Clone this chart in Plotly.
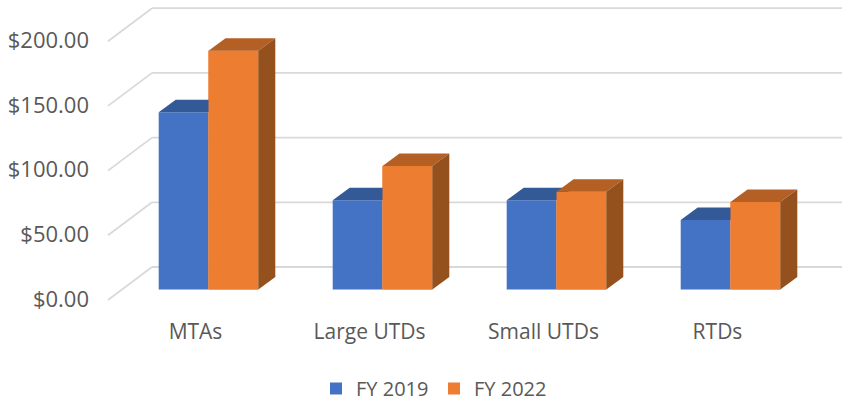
import plotly.graph_objects as go

categories = ["MTAs", "Large UTDs", "Small UTDs", "RTDs"]
fy2019 = [137, 69, 69, 53.7]
fy2022 = [184.6, 95.5, 75.6, 67.6]
y_ticks = [0, 50, 100, 150, 200]
y_tick_labels = ["$0.00", "$50.00", "$100.00", "$150.00", "$200.00"]

BLUE, BLUE_TOP = "#4472C4", "#335A97"
ORANGE, ORANGE_TOP, ORANGE_SIDE = "#ED7D31", "#B45F24", "#95511D"
GRID = "#D9D9D9"
TEXT = "#595959"
FONT = "Open Sans"

W, H = 842, 400
PLOT_L, PLOT_B = 90, 317
X0_PX, Y0_PX = 208.5, 289.5   # pixel of category 0 centre and of value 0 on bar plane
PX_X, PX_Y = 174.0, 1.294     # pixels per category / per dollar

bar_w = 49.8 / PX_X
dx, dv = 17 / PX_X, 12.5 / PX_Y          # bar depth
back_x, back_v = -56.5 / PX_X, 22.5 / PX_Y   # back wall offset
front_x, front_v = -100.5 / PX_X, -10.5 / PX_Y  # front edge of side wall
label_dv, label_dx = -9.5 / PX_Y, -13 / PX_X

x_range = [(PLOT_L - X0_PX) / PX_X, (W - X0_PX) / PX_X]
y_range = [(Y0_PX - PLOT_B) / PX_Y, Y0_PX / PX_Y]
xs = list(range(len(categories)))

fig = go.Figure()

fig.add_bar(x=xs, y=fy2019, name="FY 2019", marker=dict(color=BLUE, line_width=0), hoverinfo="skip")
fig.add_bar(x=xs, y=fy2022, name="FY 2022", marker=dict(color=ORANGE, line_width=0), hoverinfo="skip")


def poly(px, py, color):
    fig.add_scatter(x=px, y=py, mode="none", fill="toself", fillcolor=color,
                    showlegend=False, hoverinfo="skip")


for i, (a, b) in enumerate(zip(fy2019, fy2022)):
    l, m, r = i - bar_w, i, i + bar_w
    poly([l, m, m + dx, l + dx], [a, a, a + dv, a + dv], BLUE_TOP)
    poly([m, r, r, m], [0, 0, b, b], ORANGE)
    poly([m, r, r + dx, m + dx], [b, b, b + dv, b + dv], ORANGE_TOP)
    poly([r, r + dx, r + dx, r], [0, dv, b + dv, b], ORANGE_SIDE)

shapes = []
for t in y_ticks:
    line = dict(type="line", xref="x", yref="y", layer="below", line=dict(color=GRID, width=1.8))
    shapes.append(dict(line, x0=front_x, y0=t + front_v, x1=back_x, y1=t + back_v))
    shapes.append(dict(line, x0=back_x, y0=t + back_v, x1=x_range[1], y1=t + back_v))

fig.update_layout(
    width=W, height=H, autosize=False,
    margin=dict(l=PLOT_L, r=0, t=0, b=H - PLOT_B, autoexpand=False),
    paper_bgcolor="white", plot_bgcolor="white",
    barmode="group", bargap=1 - 2 * bar_w, bargroupgap=0,
    shapes=shapes,
    showlegend=True,
    legend=dict(orientation="h", xref="container", x=434 / W, xanchor="center",
                yref="container", y=1 - 369 / H, yanchor="top",
                entrywidth=73, entrywidthmode="pixels",
                font=dict(family=FONT, size=20, color=TEXT), itemsizing="constant"),
    xaxis=dict(range=x_range, showgrid=False, zeroline=False, showline=False, ticks="",
               automargin=False, tickvals=[x + label_dx for x in xs], ticktext=categories,
               tickfont=dict(family=FONT, size=21, color=TEXT)),
    yaxis=dict(range=y_range, showgrid=False, zeroline=False, showline=False, ticks="",
               automargin=False, tickvals=[t + label_dv for t in y_ticks], ticktext=y_tick_labels,
               tickfont=dict(family=FONT, size=22, color=TEXT)),
)

fig.write_html("out.html", config={"displayModeBar": False},
               post_script="document.body.style.margin='0';")
